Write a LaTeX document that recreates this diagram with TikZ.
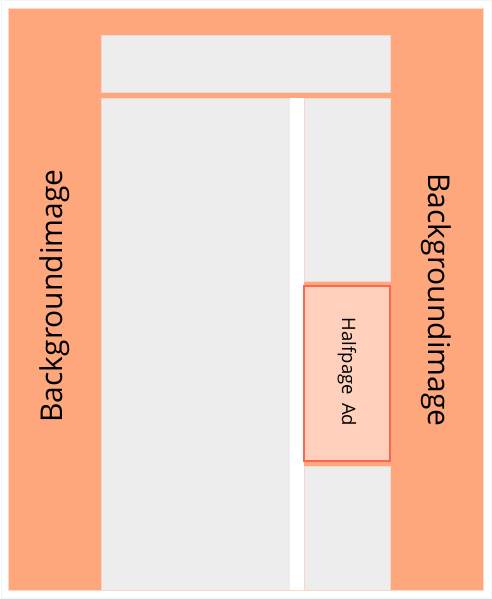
\documentclass[tikz,border=0pt]{standalone}
\usepackage{fontspec}
\setmainfont{Open Sans}
\definecolor{bgorange}{HTML}{FFA77C}
\definecolor{bgedge}{HTML}{FFD8C8}
\definecolor{pagegray}{HTML}{EDEDED}
\definecolor{grayedge}{HTML}{F2D8CC}
\definecolor{adfill}{HTML}{FFD1BC}
\definecolor{adedge}{HTML}{FF6650}
\definecolor{frameblue}{HTML}{EEF6FA}
\tikzset{
  bgarea/.style={fill=bgorange, draw=bgedge, line width=0.8pt},
  pagearea/.style={fill=pagegray, draw=grayedge, line width=0.6pt},
  adbox/.style={fill=adfill, draw=adedge, line width=1.2pt},
  bglabel/.style={font=\fontsize{30}{36}\selectfont, text=black, inner sep=0pt},
  adlabel/.style={font=\fontsize{18.5}{23}\selectfont, text=black, inner sep=0pt}
}
\begin{document}
\begin{tikzpicture}[x=1pt,y=-1pt]
\useasboundingbox (0,0) rectangle (492,599);
\fill[white] (0,0) rectangle (492,599);
\draw[frameblue, line width=1pt] (1,1) rectangle (491,598);
% background image
\draw[bgarea] (8,8) rectangle (483,590);
% header
\draw[pagearea] (101,35) rectangle (390,92);
% main content column
\draw[pagearea] (101,98) rectangle (290,590);
% gap
\fill[white] (290,98) rectangle (304,590);
% sidebar column
\draw[pagearea] (304,98) rectangle (390,281);
\draw[pagearea] (304,466) rectangle (390,590);
% halfpage ad
\draw[adbox] (304,286) rectangle (390,461);
\node[bglabel, rotate=90] (leftbg) at (55,296) {Backgroundimage};
\node[bglabel, rotate=-90] (rightbg) at (436.5,300) {Backgroundimage};
\node[adlabel, rotate=-90] (ad) at (347,372) {Halfpage\hspace{0.45em}Ad};
\end{tikzpicture}
\end{document}
